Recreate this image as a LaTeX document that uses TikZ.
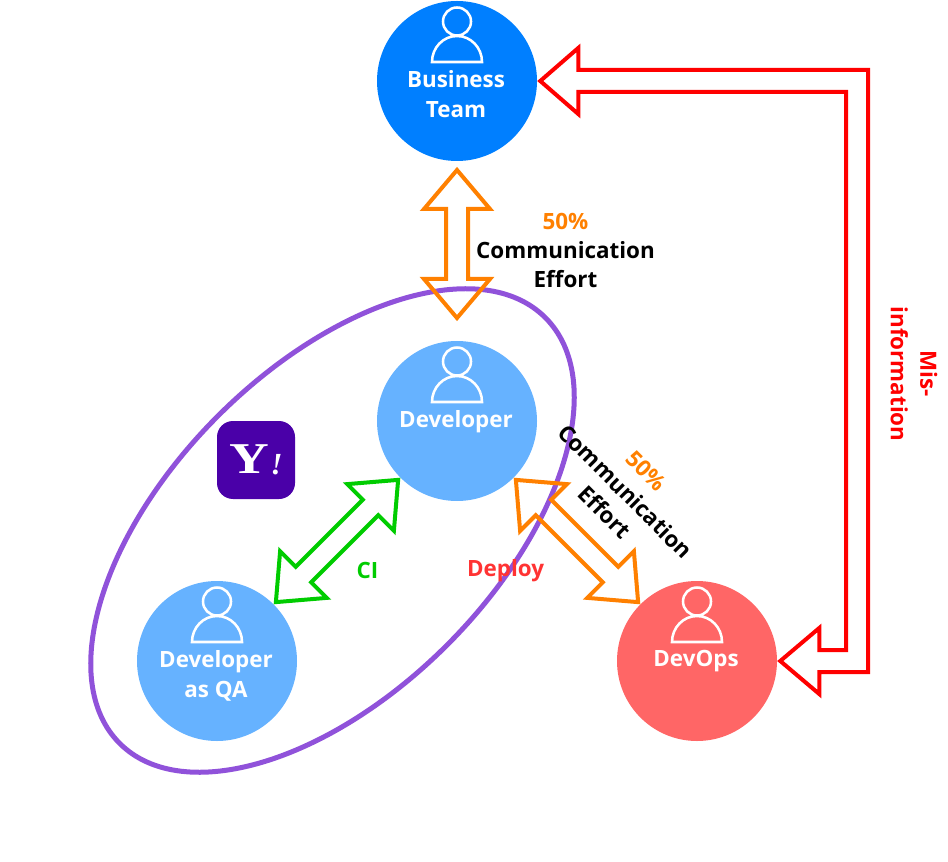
\documentclass[tikz,border=0pt]{standalone}
\usepackage{fontspec}
\setmainfont{Open Sans}
\newfontfamily\yahoofont{Liberation Serif}
\usetikzlibrary{calc}
\definecolor{bizblue}{HTML}{007FFF}
\definecolor{devblue}{HTML}{66B2FF}
\definecolor{opsred}{HTML}{FF6666}
\definecolor{commorange}{HTML}{FF8000}
\definecolor{cigreen}{HTML}{00CC00}
\definecolor{misred}{HTML}{FF0000}
\definecolor{deployred}{HTML}{FF3333}
\definecolor{teampurple}{HTML}{9052DA}
\definecolor{yahoopurple}{HTML}{4A00A8}
\tikzset{
	member/.style={circle,inner sep=0pt,minimum size=120pt},
	memberlabel/.style={text=white,align=center,font=\fontsize{16.8}{22.4}\selectfont\bfseries},
	personline/.style={draw=white,line width=1.9pt},
	blockarrow/.style={line width=3pt,line join=miter,miter limit=10},
	caption/.style={align=center,font=\fontsize{16.8}{22}\selectfont\bfseries},
}
% double block arrow between two points
\newcommand{\dblarrow}[3]{
	\draw[blockarrow,#1] (#2)
	--($(#2)!29.25pt!(#3)!24.75pt!90:(#3)$)--($(#2)!29.25pt!(#3)!8.25pt!90:(#3)$)
	--($(#3)!29.25pt!(#2)!8.25pt!-90:(#2)$)--($(#3)!29.25pt!(#2)!24.75pt!-90:(#2)$)
	--(#3)
	--($(#3)!29.25pt!(#2)!24.75pt!90:(#2)$)--($(#3)!29.25pt!(#2)!8.25pt!90:(#2)$)
	--($(#2)!29.25pt!(#3)!8.25pt!-90:(#3)$)--($(#2)!29.25pt!(#3)!24.75pt!-90:(#3)$)
	--cycle;
}
\begin{document}
\begin{tikzpicture}[x=.75pt,y=-.75pt,line cap=butt]
	\useasboundingbox (0,0) rectangle (948,862);
	\path
	(457,170) coordinate (topTip)
	(457,318) coordinate (bottomTip)
	(868,70) coordinate (redOuter)
	(846,92) coordinate (redInner)
	;
	% team members
	\foreach \n/\x/\y/\c/\t in{biz/457/81/bizblue/{Business\\Team},dev/457/421/devblue/{Developer},qa/217/661/devblue/{Developer\\as QA},ops/697/661/opsred/{DevOps}}{
		\node[member,fill=\c] (\n) at (\x,\y) {};
		\node[memberlabel,anchor=north] (\n label) at ($(\n.center)+(-1,-15)$) {\t};
		\draw[personline,shift={(\n.center)}] (0,-59.5) circle[radius=14]
		(-25,-19) arc[start angle=180,end angle=360,x radius=25,y radius=26]--cycle;
	}
	% group
	\draw[teampurple,line width=3.75pt] (332.5,530.5) ellipse[x radius=301,y radius=162,rotate=45];
	\node[fill=yahoopurple,rounded corners=12pt,minimum size=58.5pt,inner sep=0pt,text=white,font=\yahoofont\bfseries\fontsize{33}{33}\selectfont] (yahoo) at (256,460) {\raisebox{1pt}{\scalebox{1.25}[1]{Y}}\hspace{1pt}\textit{\fontsize{23}{23}\selectfont!}};
	% arrows
	\dblarrow{commorange}{topTip}{bottomTip}
	\path
	($(dev.-135)!2.25pt!(qa.45)$) coordinate (ciTop)
	($(qa.45)!2.25pt!(dev.-135)$) coordinate (ciBottom)
	($(dev.-45)!2.25pt!(ops.135)$) coordinate (deployTop)
	($(ops.135)!2.25pt!(dev.-45)$) coordinate (deployBottom)
	($(biz.east)+(3,0)$) coordinate (bizTip)
	($(ops.east)+(3,0)$) coordinate (opsTip)
	;
	\dblarrow{cigreen}{ciTop}{ciBottom}
	\dblarrow{commorange}{deployTop}{deployBottom}
	\draw[blockarrow,misred] (bizTip)--++(38,-33)--++(0,22)--(redOuter)|-($(opsTip)+(39,11)$)--++(0,22)--(opsTip)--++(39,-33)--++(0,22)-|(redInner)--($(bizTip)+(38,11)$)--++(0,22)--cycle;
	% labels
	\node[caption] (commTop) at (565.5,250.5) {\textcolor{commorange}{50\%}\\Communication\\Effort};
	\node[caption,text=cigreen] (ci) at (367.5,570) {CI};
	\node[caption,text=deployred] (deploy) at (505.5,570.5) {Deploy};
	\node[caption,rotate=-45] (commSide) at (625.5,491.5) {\textcolor{commorange}{50\%}\\Communication\\Effort};
	\node[caption,text=misred,rotate=-90] (mis) at (914,374) {Mis-\\information};
\end{tikzpicture}
\end{document}
